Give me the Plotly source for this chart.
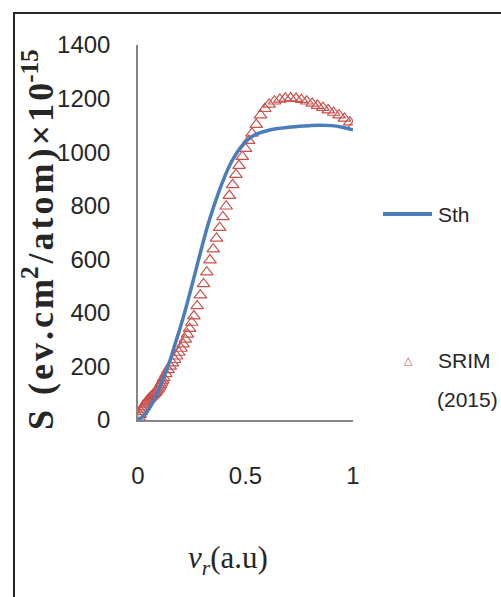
import plotly.graph_objects as go

# Theoretical stopping cross-section (Sth)
sth_v = [0.0, 0.025, 0.05, 0.075, 0.1, 0.125, 0.15, 0.175, 0.2, 0.225, 0.25, 0.275,
         0.3, 0.325, 0.35, 0.375, 0.4, 0.425, 0.45, 0.475, 0.5, 0.525, 0.55, 0.6,
         0.65, 0.7, 0.75, 0.8, 0.85, 0.9, 0.95, 1.0]
sth_s = [0, 15, 40, 75, 120, 170, 225, 290, 355, 425, 500, 578,
         655, 728, 792, 850, 902, 948, 985, 1015, 1038, 1055, 1067, 1080,
         1088, 1093, 1097, 1099, 1100, 1099, 1093, 1083]

# SRIM (2015) tabulated values
srim_v = [0.005, 0.01, 0.015, 0.02, 0.025, 0.03, 0.035, 0.04, 0.045, 0.05, 0.055,
          0.06, 0.065, 0.07, 0.075, 0.08, 0.085, 0.09, 0.095, 0.10, 0.105, 0.11,
          0.115, 0.12, 0.13, 0.14, 0.15, 0.16, 0.17, 0.18, 0.19, 0.20, 0.21, 0.22,
          0.23, 0.24, 0.25, 0.26, 0.275, 0.29, 0.305, 0.32, 0.335, 0.35, 0.365,
          0.38, 0.395, 0.41, 0.425, 0.44, 0.455, 0.47, 0.485, 0.50, 0.515, 0.53,
          0.55, 0.57, 0.59, 0.61, 0.635, 0.66, 0.685, 0.71, 0.735, 0.76, 0.785,
          0.81, 0.835, 0.86, 0.885, 0.91, 0.935, 0.96, 0.985, 1.0]
srim_s = [10, 20, 30, 40, 48, 56, 62, 68, 73, 78, 82,
          86, 90, 94, 98, 102, 107, 112, 118, 125, 132, 140,
          148, 157, 172, 187, 200, 212, 225, 238, 252, 267, 283, 301,
          320, 341, 364, 388, 426, 466, 508, 552, 597, 638, 678,
          718, 758, 798, 838, 878, 916, 950, 983, 1013, 1043, 1070,
          1103, 1138, 1162, 1178, 1190, 1197, 1201, 1202, 1200, 1196, 1190,
          1182, 1174, 1166, 1157, 1148, 1138, 1126, 1112, 1095]

y_ticks = [0, 200, 400, 600, 800, 1000, 1200, 1400]
x_ticks = [0, 0.5, 1]

W, H = 501, 597
L, R, T, B = 138, 148, 45, 177
PW, PH = W - L - R, H - T - B

RED = "#C9504C"
BLUE = "#4A7EBB"
INK = "#262626"

tick_font = dict(family="Liberation Sans", size=24, color=INK)
legend_font = dict(family="Liberation Sans", size=21, color=INK)


def px(xp):
    return (xp - L) / PW


def py(yp):
    return (H - B - yp) / PH


fig = go.Figure()
fig.add_trace(go.Scatter(
    x=srim_v, y=srim_s, mode="markers", name="SRIM (2015)",
    marker=dict(symbol="triangle-up-open", size=11, color=RED,
                line=dict(width=1.2, color=RED)),
))
fig.add_trace(go.Scatter(
    x=sth_v, y=sth_s, mode="lines", name="Sth",
    line=dict(color=BLUE, width=3.5, shape="spline"),
))

fig.update_layout(
    width=W, height=H,
    margin=dict(l=L, r=R, t=T, b=B),
    paper_bgcolor="white", plot_bgcolor="white",
    showlegend=False,
    xaxis=dict(
        range=[0, 1], tickvals=x_ticks, ticktext=["0", "0.5", "1"],
        showgrid=False, zeroline=False, showline=True, linecolor="#868686",
        linewidth=1.5, ticks="", tickfont=tick_font, ticklabelstandoff=33,
    ),
    yaxis=dict(
        range=[0, 1400], tickvals=y_ticks,
        showgrid=False, zeroline=False, showline=True, linecolor="#868686",
        linewidth=1.5, ticks="", tickfont=tick_font, ticklabelstandoff=21,
    ),
)

# Outer frame
fig.add_shape(type="rect", xref="paper", yref="paper",
              x0=px(14), x1=px(560), y0=py(700), y1=py(13),
              line=dict(color=INK, width=2), fillcolor="rgba(0,0,0,0)",
              layer="below")

# Legend: line sample and triangle sample with their labels
fig.add_shape(type="line", xref="paper", yref="paper",
              x0=px(383), x1=px(432), y0=py(214), y1=py(214),
              line=dict(color=BLUE, width=4))
fig.add_annotation(xref="paper", yref="paper", x=px(436), y=py(214),
                   text="Sth", showarrow=False, xanchor="left", yanchor="middle",
                   font=legend_font)
fig.add_annotation(xref="paper", yref="paper", x=px(408), y=py(360),
                   text="△", showarrow=False, xanchor="center", yanchor="middle",
                   font=dict(family="DejaVu Sans", size=11, color=RED))
fig.add_annotation(xref="paper", yref="paper", x=px(436), y=py(360),
                   text="SRIM", showarrow=False, xanchor="left", yanchor="middle",
                   font=legend_font)
fig.add_annotation(xref="paper", yref="paper", x=px(435), y=py(399),
                   text="(2015)", showarrow=False, xanchor="left", yanchor="middle",
                   font=legend_font)

# Axis titles
hs = "\u200a"
fig.add_annotation(
    xref="paper", yref="paper", x=px(38), y=py(240),
    text=hs.join("S (ev.cm") + "<sup>2</sup>" + hs + hs.join("/atom)×10")
         + "<sup>-15</sup>",
    textangle=-90, showarrow=False, xanchor="center", yanchor="middle",
    font=dict(family="Liberation Serif", size=36, color=INK, weight="bold"),
)
fig.add_annotation(
    xref="paper", yref="paper", x=px(228), y=py(560),
    text="<i>v</i><sub><i>r</i></sub>(a.u)",
    showarrow=False, xanchor="center", yanchor="middle",
    font=dict(family="Liberation Serif", size=31, color=INK),
)

fig.write_html("out.html")
